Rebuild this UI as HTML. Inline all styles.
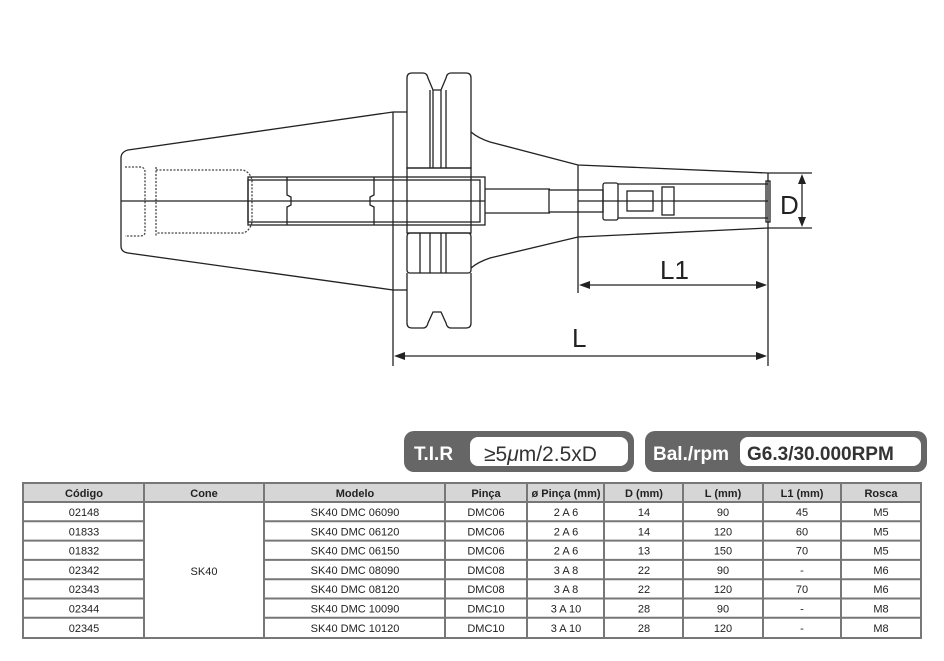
<!DOCTYPE html>
<html><head><meta charset="utf-8"><style>
html,body{margin:0;padding:0;background:#fff;width:944px;height:661px;overflow:hidden}
svg{display:block}
text{font-family:"Liberation Sans",sans-serif}
</style></head><body>
<svg width="944" height="661" viewBox="0 0 944 661" xmlns="http://www.w3.org/2000/svg">
<g fill="none" stroke="#222" stroke-width="1.3">
<!-- taper -->
<path d="M393,112 L128,150 Q121,152 121,158 L121,246 Q121,252 128,253 L393,290"/>
<line x1="393" y1="112" x2="393" y2="290"/>
<line x1="393" y1="112" x2="407" y2="112"/>
<line x1="393" y1="290" x2="407" y2="290"/>
<!-- dashed stud area -->
<g stroke-dasharray="2,1.5" stroke="#444">
<path d="M125,167 L140,167 Q145,167 145,172 L145,232 Q145,236 140,236 L125,236"/>
<line x1="156" y1="167" x2="156" y2="236"/>
<path d="M156,170 L243,170 Q250,172 252,180 L252,222 Q250,231 243,233 L156,233"/>
</g>
<!-- bore -->
<rect x="248" y="177" width="237" height="48"/>
<rect x="248" y="180" width="232" height="42"/>
<line x1="121" y1="201" x2="485" y2="201"/>
<path d="M287,177 L287,195 L291,197 L291,205 L287,207 L287,225"/>
<path d="M374,177 L374,195 L370,197 L370,205 L374,207 L374,225"/>
<!-- flange -->
<path d="M407,168 L407,78 Q407,73 412,73 L423,73 Q427,73 428,78 L433,90 L441,90 L446,78 Q447,73 451,73 L466,73 Q471,73 471,78 L471,168 Z"/>
<line x1="430" y1="168" x2="430" y2="90"/><line x1="446" y1="168" x2="446" y2="90"/>
<line x1="441" y1="168" x2="441" y2="90"/><line x1="433" y1="168" x2="433" y2="90"/>
<rect x="407" y="168" width="64" height="65"/>
<path d="M410,233 L468,233 Q471,233 471,237 L471,270 Q471,273 468,273 L410,273 Q407,273 407,270 L407,237 Q407,233 410,233Z"/>
<line x1="420" y1="233" x2="420" y2="273"/><line x1="430" y1="233" x2="430" y2="273"/>
<line x1="441" y1="233" x2="441" y2="273"/><line x1="446" y1="233" x2="446" y2="273"/>
<path d="M407,273 L407,323 Q407,328 412,328 L423,328 Q427,328 428,323 L433,312 L441,312 L446,323 Q447,328 451,328 L466,328 Q471,328 471,323 L471,273"/>
<!-- neck -->
<path d="M471,132 Q478,138 490,142 L578,165 L768,173"/>
<path d="M471,268 Q478,262 490,258 L578,237 L768,228"/>
<line x1="578" y1="165" x2="578" y2="293"/>
<line x1="485" y1="189" x2="550" y2="189"/><line x1="485" y1="213" x2="550" y2="213"/>
<rect x="549" y="190" width="54" height="22"/>
<rect x="603" y="183" width="15" height="37" rx="2"/>
<rect x="627" y="191" width="26" height="20"/>
<rect x="662" y="187" width="12" height="28"/>
<line x1="618" y1="184" x2="768" y2="184"/><line x1="618" y1="218" x2="768" y2="218"/>
<line x1="578" y1="201" x2="768" y2="201"/>
<rect x="766" y="181" width="4" height="41"/>
<!-- dims -->
<line x1="768" y1="173" x2="812" y2="173"/><line x1="768" y1="228" x2="812" y2="228"/>
<line x1="802" y1="178" x2="802" y2="223"/>
<line x1="768" y1="173" x2="768" y2="366"/>
<line x1="393" y1="290" x2="393" y2="366"/>
<line x1="584" y1="285" x2="764" y2="285"/>
<line x1="399" y1="356" x2="764" y2="356"/>
</g>
<g fill="#222">
<path d="M802,174 L798,184 L806,184Z"/><path d="M802,227 L798,217 L806,217Z"/>
<path d="M579,285 L590,281 L590,289Z"/><path d="M767,285 L756,281 L756,289Z"/>
<path d="M394,356 L405,352 L405,360Z"/><path d="M767,356 L756,352 L756,360Z"/>
</g>
<text x="780" y="214" font-size="26" fill="#222">D</text>
<text x="660" y="279" font-size="26" fill="#222">L1</text>
<text x="572" y="347" font-size="26" fill="#222">L</text>
<!-- badges -->
<rect x="404" y="431" width="230" height="41" rx="10" fill="#666"/>
<rect x="470" y="437" width="158" height="29" rx="8" fill="#fff"/>
<text x="414" y="460" font-size="19" font-weight="bold" fill="#fff">T.I.R</text>
<text x="484" y="461" font-size="21" fill="#333">≥5<tspan font-style="italic">μ</tspan>m/2.5xD</text>
<rect x="645" y="431" width="282" height="41" rx="10" fill="#666"/>
<rect x="740" y="437" width="181" height="29" rx="8" fill="#fff"/>
<text x="653" y="460" font-size="19" font-weight="bold" fill="#fff">Bal./rpm</text>
<text x="747" y="460" font-size="19" font-weight="bold" fill="#333">G6.3/30.000RPM</text>
<!-- table -->
<rect x="23" y="483" width="898" height="19" fill="#d6d6d6"/>
<g stroke="#777" stroke-width="2" fill="none">
<rect x="23" y="483" width="898" height="155"/>
<line x1="23" y1="502" x2="921" y2="502"/>
<line x1="23" y1="521.3" x2="144" y2="521.3"/><line x1="264" y1="521.3" x2="921" y2="521.3"/>
<line x1="23" y1="540.6" x2="144" y2="540.6"/><line x1="264" y1="540.6" x2="921" y2="540.6"/>
<line x1="23" y1="559.9" x2="144" y2="559.9"/><line x1="264" y1="559.9" x2="921" y2="559.9"/>
<line x1="23" y1="579.2" x2="144" y2="579.2"/><line x1="264" y1="579.2" x2="921" y2="579.2"/>
<line x1="23" y1="598.5" x2="144" y2="598.5"/><line x1="264" y1="598.5" x2="921" y2="598.5"/>
<line x1="23" y1="617.8" x2="144" y2="617.8"/><line x1="264" y1="617.8" x2="921" y2="617.8"/>
<line x1="144" y1="483" x2="144" y2="638"/><line x1="264" y1="483" x2="264" y2="638"/>
<line x1="445" y1="483" x2="445" y2="638"/><line x1="527" y1="483" x2="527" y2="638"/>
<line x1="604" y1="483" x2="604" y2="638"/><line x1="683" y1="483" x2="683" y2="638"/>
<line x1="763" y1="483" x2="763" y2="638"/><line x1="841" y1="483" x2="841" y2="638"/>
</g>
<g font-size="11" fill="#222" text-anchor="middle">
<g font-weight="bold"><text x="84" y="497">Código</text><text x="204" y="497">Cone</text><text x="355" y="497">Modelo</text><text x="486" y="497">Pinça</text><text x="566" y="497">ø Pinça (mm)</text><text x="644" y="497">D (mm)</text><text x="723" y="497">L (mm)</text><text x="802" y="497">L1 (mm)</text><text x="881" y="497">Rosca</text></g>
<text x="204" y="575">SK40</text>
<g transform="translate(0,516)"><text x="84">02148</text><text x="355">SK40 DMC 06090</text><text x="486">DMC06</text><text x="566">2 A 6</text><text x="644">14</text><text x="723">90</text><text x="802">45</text><text x="881">M5</text></g>
<g transform="translate(0,535.3)"><text x="84">01833</text><text x="355">SK40 DMC 06120</text><text x="486">DMC06</text><text x="566">2 A 6</text><text x="644">14</text><text x="723">120</text><text x="802">60</text><text x="881">M5</text></g>
<g transform="translate(0,554.6)"><text x="84">01832</text><text x="355">SK40 DMC 06150</text><text x="486">DMC06</text><text x="566">2 A 6</text><text x="644">13</text><text x="723">150</text><text x="802">70</text><text x="881">M5</text></g>
<g transform="translate(0,573.9)"><text x="84">02342</text><text x="355">SK40 DMC 08090</text><text x="486">DMC08</text><text x="566">3 A 8</text><text x="644">22</text><text x="723">90</text><text x="802">-</text><text x="881">M6</text></g>
<g transform="translate(0,593.2)"><text x="84">02343</text><text x="355">SK40 DMC 08120</text><text x="486">DMC08</text><text x="566">3 A 8</text><text x="644">22</text><text x="723">120</text><text x="802">70</text><text x="881">M6</text></g>
<g transform="translate(0,612.5)"><text x="84">02344</text><text x="355">SK40 DMC 10090</text><text x="486">DMC10</text><text x="566">3 A 10</text><text x="644">28</text><text x="723">90</text><text x="802">-</text><text x="881">M8</text></g>
<g transform="translate(0,631.8)"><text x="84">02345</text><text x="355">SK40 DMC 10120</text><text x="486">DMC10</text><text x="566">3 A 10</text><text x="644">28</text><text x="723">120</text><text x="802">-</text><text x="881">M8</text></g>
</g>
</svg>
</body></html>
